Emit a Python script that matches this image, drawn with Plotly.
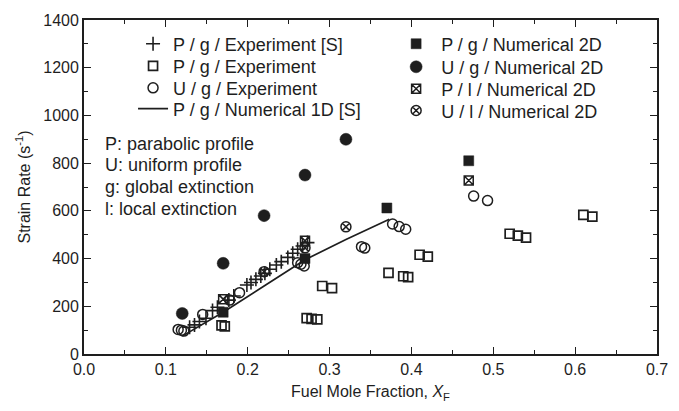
import plotly.graph_objects as go

# ---- data ----
plus_x = [0.129, 0.135, 0.141, 0.149, 0.157, 0.163, 0.177, 0.183, 0.199, 0.204, 0.210,
          0.216, 0.221, 0.227, 0.235, 0.241, 0.249, 0.255, 0.261, 0.267, 0.273]
plus_y = [112, 122, 136, 150, 182, 196, 226, 243, 289, 300, 313,
          327, 338, 355, 373, 387, 405, 422, 439, 453, 467]

sq_open_x = [0.168, 0.172, 0.272, 0.278, 0.285, 0.291, 0.303, 0.372, 0.390, 0.396,
             0.410, 0.420, 0.520, 0.530, 0.540, 0.610, 0.621]
sq_open_y = [120, 116, 150, 147, 145, 285, 276, 340, 326, 322,
             416, 408, 504, 496, 488, 583, 576]

ci_open_x = [0.115, 0.119, 0.122, 0.145, 0.178, 0.190, 0.261, 0.265, 0.269,
             0.339, 0.343, 0.377, 0.385, 0.393, 0.476, 0.493]
ci_open_y = [103, 100, 96, 166, 226, 257, 383, 376, 369,
             450, 444, 545, 534, 523, 662, 643]

num1d_x = [0.12, 0.17, 0.22, 0.27, 0.32, 0.373]
num1d_y = [75, 175, 285, 395, 480, 565]

sq_fill_x = [0.17, 0.27, 0.37, 0.47]
sq_fill_y = [175, 400, 612, 810]

ci_fill_x = [0.12, 0.17, 0.22, 0.27, 0.32]
ci_fill_y = [170, 380, 580, 750, 900]

sq_x_x = [0.17, 0.27, 0.47]
sq_x_y = [230, 475, 727]

ci_x_x = [0.22, 0.27, 0.32]
ci_x_y = [345, 445, 533]

x_ticks = [0.0, 0.1, 0.2, 0.3, 0.4, 0.5, 0.6, 0.7]
x_ticklabels = ["0.0", "0.1", "0.2", "0.3", "0.4", "0.5", "0.6", "0.7"]
y_ticks = [0, 200, 400, 600, 800, 1000, 1200, 1400]

notes = ["P: parabolic profile", "U: uniform profile", "g: global extinction", "l: local extinction"]

# ---- figure ----
INK = "#1e1e1e"
FONT = "Liberation Sans, Arial, sans-serif"

# (x paper, y paper (row centre), itemwidth)
leg_pos = {
    "legend":  (0.0856, 0.928, 30),
    "legend2": (0.0856, 0.862, 30),
    "legend3": (0.0856, 0.796, 30),
    "legend4": (0.0856, 0.734, 30),
    "legend5": (0.536, 0.928, 40),
    "legend6": (0.536, 0.859, 40),
    "legend7": (0.536, 0.793, 40),
    "legend8": (0.536, 0.728, 40),
}

fig = go.Figure()
fig.add_trace(go.Scatter(x=plus_x, y=plus_y, mode="markers", name="P / g / Experiment [S]",
                         marker=dict(symbol="cross-thin-open", size=10, color=INK,
                                     line=dict(width=1.6, color=INK)), legend="legend"))
fig.add_trace(go.Scatter(x=sq_open_x, y=sq_open_y, mode="markers", name="P / g / Experiment",
                         marker=dict(symbol="square-open", size=9, color=INK,
                                     line=dict(width=1.7, color=INK)), legend="legend2"))
fig.add_trace(go.Scatter(x=ci_open_x, y=ci_open_y, mode="markers", name="U / g / Experiment",
                         marker=dict(symbol="circle-open", size=10, color=INK,
                                     line=dict(width=1.5, color=INK)), legend="legend3"))
fig.add_trace(go.Scatter(x=num1d_x, y=num1d_y, mode="lines", name="P / g / Numerical 1D [S]",
                         line=dict(color=INK, width=1.7), legend="legend4"))

fig.add_trace(go.Scatter(x=sq_fill_x, y=sq_fill_y, mode="markers", name="P / g / Numerical 2D",
                         marker=dict(symbol="square", size=10, color=INK,
                                     line=dict(width=0.5, color=INK)), legend="legend5"))
fig.add_trace(go.Scatter(x=ci_fill_x, y=ci_fill_y, mode="markers", name="U / g / Numerical 2D",
                         marker=dict(symbol="circle", size=12, color=INK,
                                     line=dict(width=0.5, color=INK)), legend="legend6"))
fig.add_trace(go.Scatter(x=sq_x_x, y=sq_x_y, mode="markers", name="P / l / Numerical 2D",
                         marker=dict(symbol="square-x-open", size=9, color=INK,
                                     line=dict(width=1.5, color=INK)), legend="legend7"))
fig.add_trace(go.Scatter(x=ci_x_x, y=ci_x_y, mode="markers", name="U / l / Numerical 2D",
                         marker=dict(symbol="circle-x-open", size=10, color=INK,
                                     line=dict(width=1.5, color=INK)), legend="legend8"))

ann = []
rows_y = [0.629, 0.566, 0.500, 0.434]
for t, yy in zip(notes, rows_y):
    ann.append(dict(text=t, x=0.034, y=yy, xref="paper", yref="paper", xanchor="left",
                    yanchor="middle", showarrow=False, font=dict(size=18, color=INK, family=FONT)))

axis_common = dict(showline=True, linecolor=INK, linewidth=1.8, mirror="ticks", ticks="inside",
                   ticklen=7, tickwidth=1.4, tickcolor=INK, showgrid=False, zeroline=False,
                   tickfont=dict(size=16, color=INK, family=FONT))

layout_legends = {}
for k, (lx, ly, iw) in leg_pos.items():
    layout_legends[k] = dict(x=lx, y=ly, xanchor="left", yanchor="middle",
                             bgcolor="rgba(0,0,0,0)", font=dict(size=18, color=INK, family=FONT),
                             tracegroupgap=0, itemwidth=iw)

fig.update_layout(
    width=679, height=411,
    margin=dict(l=84, r=11, t=20, b=57),
    paper_bgcolor="white", plot_bgcolor="white",
    font=dict(family=FONT, color=INK, size=16),
    showlegend=True,
    annotations=ann,
    **layout_legends,
)
fig.update_xaxes(**axis_common, range=[0, 0.7], tickvals=x_ticks, ticktext=x_ticklabels,
                 minor=dict(ticks="inside", ticklen=4, dtick=0.05, tickcolor=INK, tickwidth=1.2),
                 title=dict(text="Fuel Mole Fraction, <i>X</i><sub>F</sub>",
                            font=dict(size=16, color=INK, family=FONT), standoff=9))
fig.update_yaxes(**axis_common, range=[0, 1400], tickvals=y_ticks,
                 minor=dict(ticks="inside", ticklen=4, dtick=100, tickcolor=INK, tickwidth=1.2),
                 title=dict(text="Strain Rate (s<sup>-1</sup>)",
                            font=dict(size=16, color=INK, family=FONT), standoff=9))

fig.write_html("out.html", config={"displayModeBar": False},
               post_script="document.body.style.margin='0';")
